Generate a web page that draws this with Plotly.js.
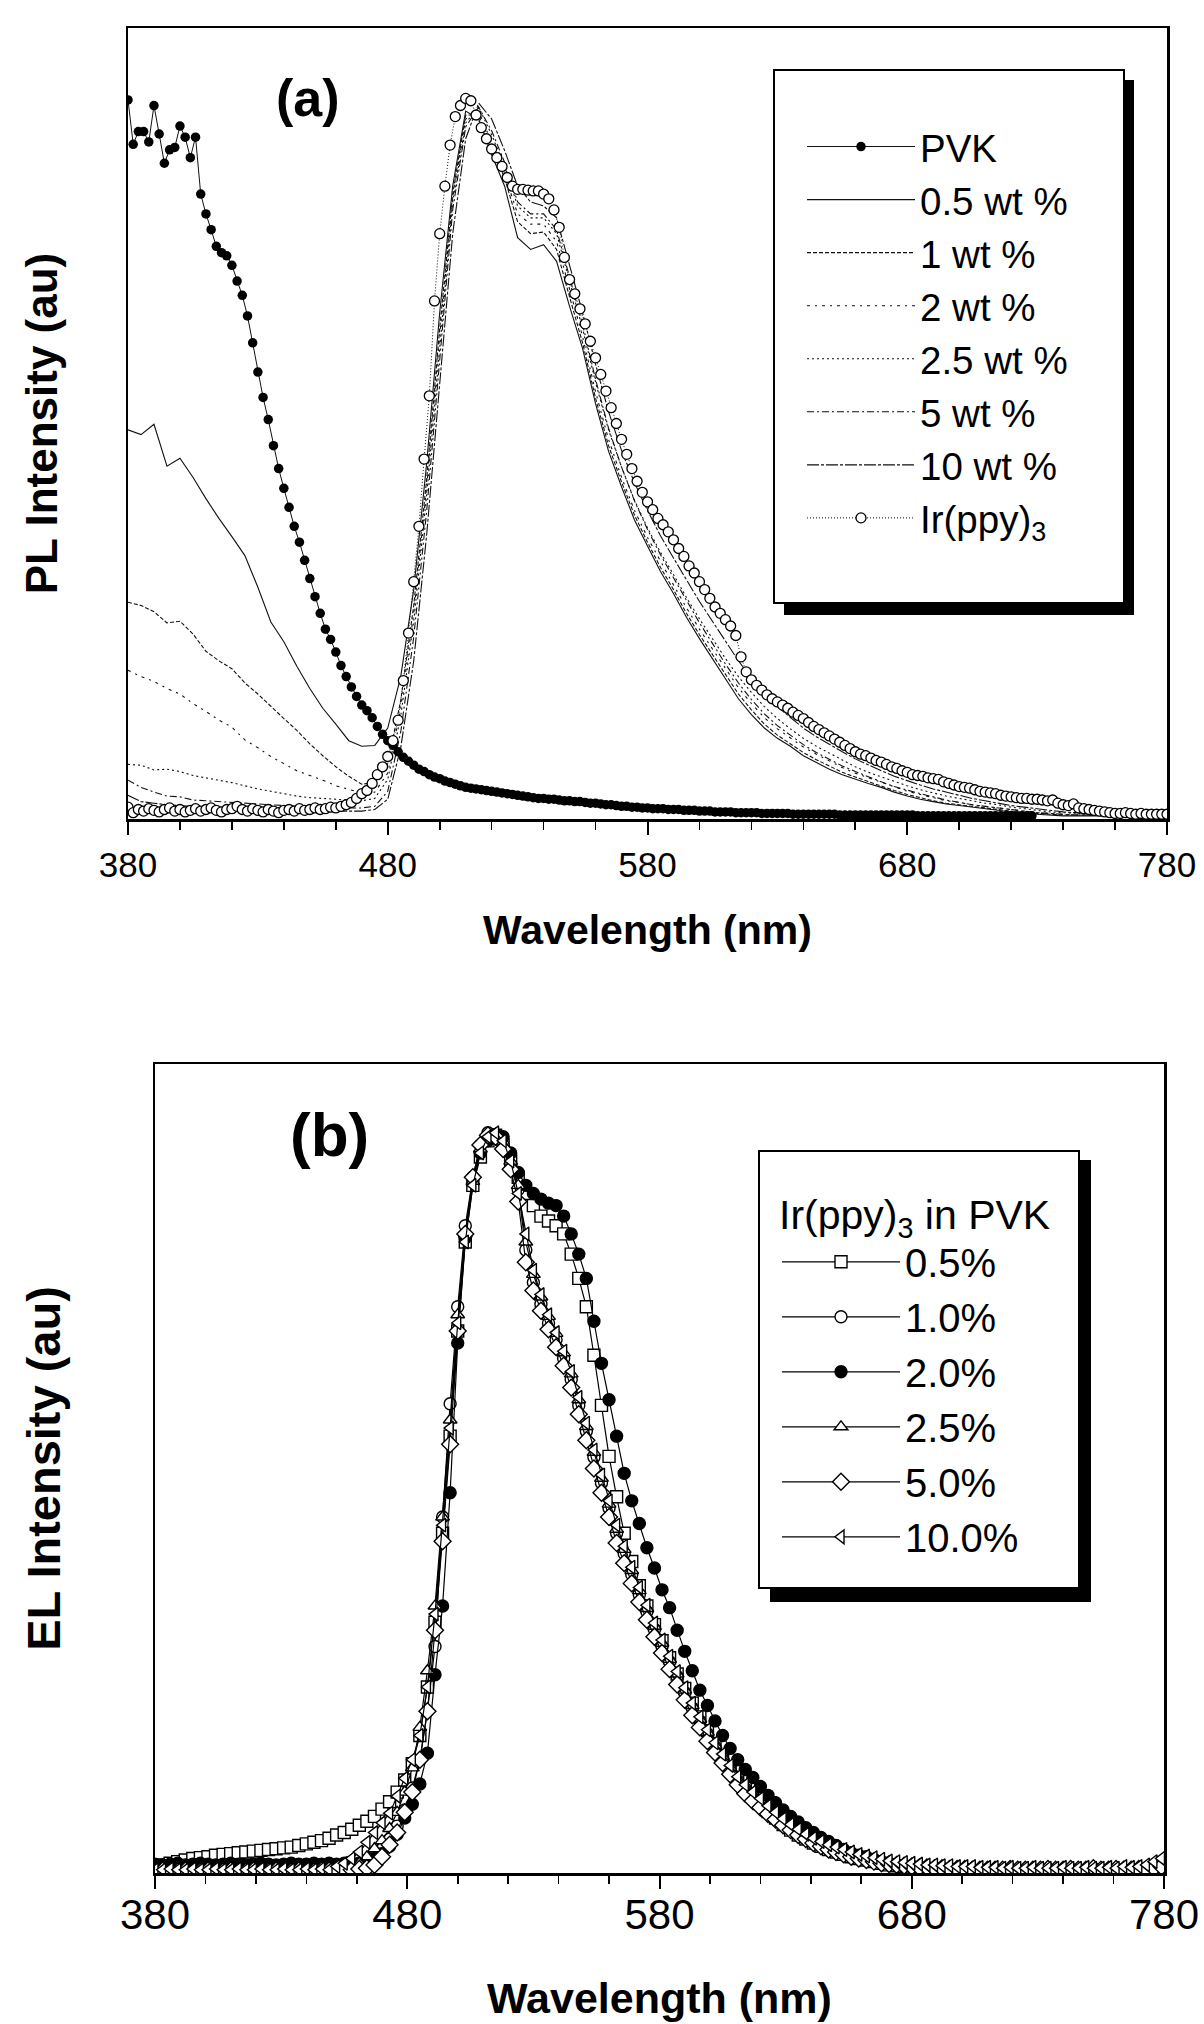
<!DOCTYPE html>
<html>
<head>
<meta charset="utf-8">
<script src="https://cdn.plot.ly/plotly-3.0.1.min.js"></script>
<style>
html,body{margin:0;padding:0;background:#fff;}
#chart{width:1204px;height:2024px;}
</style>
</head>
<body>
<div id="chart"></div>
<script>
// ---------------- DATA : panel (a) PL spectra ----------------
const wlDense = [
380,382,384,386,388,390,392,394,396,398,
400,402,404,406,408,410,412,414,416,418,
420,422,424,426,428,430,432,434,436,438,
440,442,444,446,448,450,452,454,456,458,
460,462,464,466,468,470,472,474,476,478,
480,482,484,486,488,490,492,494,496,498,
500,502,504,506,508,510,512,514,516,518,
520,522,524,526,528,530,532,534,536,538,
540,542,544,546,548,550,552,554,556,558,
560,562,564,566,568,570,572,574,576,578,
580,582,584,586,588,590,592,594,596,598,
600,602,604,606,608,610,612,614,616,618,
620,622,624,626,628,630,632,634,636,638,
640,642,644,646,648,650,652,654,656,658,
660,662,664,666,668,670,672,674,676,678,
680,682,684,686,688,690,692,694,696,698,
700,702,704,706,708,710,712,714,716,718,
720,722,724,726,728,730,732,734,736,738,
740,742,744,746,748,750,752,754,756,758,
760,762,764,766,768,770,772,774,776,778,
780];

const wlLine = [
380,385,390,395,400,405,410,415,420,425,
430,435,440,445,450,455,460,465,470,475,
480,485,490,495,500,505,510,515,520,525,
530,535,540,545,550,555,560,565,570,575,
580,585,590,595,600,605,610,615,620,625,
630,635,640,645,650,655,660,665,670,675,
680,685,690,695,700,705,710,715,720,725,
730,735,740,745,750,755,760,765,770,775,
780];

const plPVK = [
0.909,0.853,0.869,0.869,0.856,0.902,0.866,0.829,0.846,0.849,
0.876,0.862,0.836,0.862,0.790,0.765,0.745,0.724,0.716,0.712,
0.700,0.680,0.662,0.636,0.602,0.565,0.533,0.505,0.472,0.443,
0.418,0.394,0.370,0.350,0.327,0.304,0.281,0.260,0.240,0.227,
0.211,0.194,0.180,0.167,0.155,0.144,0.137,0.128,0.117,0.107,
0.099,0.093,0.085,0.078,0.073,0.068,0.063,0.060,0.056,0.053,
0.051,0.048,0.046,0.044,0.042,0.040,0.039,0.038,0.037,0.036,
0.035,0.034,0.033,0.032,0.031,0.030,0.029,0.028,0.027,0.026,
0.026,0.025,0.025,0.024,0.023,0.023,0.022,0.022,0.021,0.020,
0.020,0.019,0.018,0.018,0.017,0.016,0.016,0.015,0.015,0.014,
0.014,0.013,0.013,0.013,0.012,0.012,0.012,0.011,0.011,0.011,
0.010,0.010,0.010,0.009,0.009,0.009,0.009,0.008,0.008,0.008,
0.008,0.008,0.007,0.007,0.007,0.007,0.007,0.007,0.006,0.006,
0.006,0.006,0.006,0.006,0.006,0.006,0.006,0.005,0.005,0.005,
0.005,0.005,0.005,0.005,0.005,0.005,0.005,0.005,0.005,0.005,
0.005,0.005,0.004,0.004,0.004,0.004,0.004,0.004,0.004,0.004,
0.004,0.004,0.004,0.004,0.004,0.004,0.004,0.004,0.004,0.004,
0.004,0.004,0.004,0.004,0.004];

const plIr = [
0.015,0.008,0.012,0.010,0.013,0.011,0.009,0.012,0.014,0.010,
0.012,0.009,0.011,0.013,0.010,0.012,0.014,0.011,0.009,0.012,
0.013,0.016,0.012,0.010,0.013,0.011,0.009,0.012,0.010,0.008,
0.011,0.012,0.010,0.013,0.011,0.012,0.014,0.012,0.013,0.015,
0.014,0.016,0.018,0.021,0.026,0.032,0.036,0.045,0.056,0.066,
0.079,0.099,0.125,0.175,0.235,0.300,0.370,0.455,0.535,0.655,
0.740,0.800,0.852,0.888,0.902,0.911,0.908,0.890,0.874,0.860,
0.847,0.836,0.825,0.811,0.800,0.796,0.796,0.795,0.794,0.794,
0.790,0.784,0.770,0.748,0.710,0.682,0.664,0.645,0.626,0.604,
0.583,0.562,0.541,0.520,0.500,0.480,0.461,0.443,0.427,0.413,
0.401,0.391,0.380,0.372,0.363,0.353,0.342,0.332,0.320,0.311,
0.300,0.290,0.279,0.268,0.260,0.252,0.244,0.232,0.205,0.186,
0.176,0.169,0.163,0.157,0.152,0.148,0.144,0.140,0.135,0.131,
0.127,0.122,0.117,0.113,0.109,0.105,0.101,0.097,0.093,0.089,
0.085,0.082,0.080,0.077,0.074,0.072,0.069,0.066,0.064,0.061,
0.059,0.056,0.055,0.054,0.052,0.051,0.050,0.047,0.045,0.043,
0.041,0.040,0.039,0.037,0.035,0.034,0.033,0.032,0.030,0.029,
0.028,0.027,0.026,0.026,0.025,0.025,0.024,0.023,0.024,0.020,
0.018,0.017,0.019,0.014,0.013,0.012,0.011,0.010,0.009,0.008,
0.007,0.007,0.008,0.007,0.006,0.007,0.006,0.006,0.006,0.006,
0.006];

const pl05 = [
0.492,0.486,0.499,0.446,0.456,0.432,0.405,0.380,0.357,0.333,
0.293,0.249,0.224,0.193,0.165,0.140,0.120,0.099,0.092,0.093,
0.115,0.180,0.290,0.450,0.640,0.800,0.895,0.885,0.840,0.800,
0.735,0.720,0.726,0.705,0.648,0.595,0.525,0.465,0.420,0.378,
0.345,0.313,0.285,0.255,0.228,0.203,0.177,0.152,0.132,0.115,
0.102,0.092,0.080,0.071,0.063,0.056,0.050,0.045,0.040,0.034,
0.029,0.025,0.022,0.019,0.017,0.015,0.013,0.011,0.009,0.007,
0.006,0.005,0.004,0.004,0.004,0.004,0.004,0.004,0.004,0.004,
0.004];
const pl1 = [
0.274,0.270,0.262,0.248,0.250,0.234,0.212,0.200,0.190,0.172,
0.158,0.142,0.127,0.112,0.095,0.080,0.066,0.054,0.044,0.046,
0.070,0.150,0.270,0.430,0.620,0.790,0.890,0.890,0.850,0.810,
0.755,0.740,0.742,0.720,0.660,0.602,0.532,0.472,0.426,0.384,
0.350,0.318,0.290,0.260,0.233,0.208,0.182,0.158,0.138,0.120,
0.106,0.095,0.084,0.075,0.067,0.059,0.053,0.047,0.042,0.036,
0.031,0.027,0.023,0.020,0.018,0.016,0.014,0.012,0.010,0.008,
0.007,0.006,0.005,0.005,0.005,0.005,0.005,0.005,0.005,0.005,
0.005];
const pl2 = [
0.188,0.180,0.174,0.165,0.158,0.146,0.136,0.125,0.116,0.100,
0.090,0.079,0.070,0.061,0.055,0.049,0.042,0.037,0.033,0.034,
0.058,0.140,0.260,0.420,0.610,0.785,0.885,0.895,0.855,0.815,
0.765,0.752,0.752,0.730,0.670,0.610,0.540,0.480,0.432,0.390,
0.356,0.325,0.296,0.267,0.240,0.215,0.190,0.166,0.146,0.128,
0.114,0.102,0.091,0.082,0.073,0.065,0.058,0.052,0.046,0.040,
0.035,0.031,0.027,0.023,0.021,0.018,0.016,0.014,0.012,0.010,
0.008,0.007,0.006,0.005,0.005,0.005,0.005,0.005,0.005,0.005,
0.005];
const pl25 = [
0.069,0.068,0.062,0.063,0.060,0.055,0.052,0.049,0.046,0.042,
0.038,0.035,0.032,0.029,0.027,0.026,0.025,0.024,0.023,0.026,
0.050,0.130,0.250,0.410,0.600,0.780,0.880,0.900,0.865,0.825,
0.775,0.760,0.760,0.740,0.680,0.620,0.552,0.492,0.445,0.403,
0.368,0.337,0.309,0.280,0.253,0.228,0.203,0.180,0.160,0.142,
0.127,0.114,0.102,0.092,0.083,0.074,0.066,0.059,0.053,0.047,
0.042,0.037,0.033,0.029,0.026,0.023,0.020,0.018,0.015,0.013,
0.011,0.009,0.008,0.007,0.006,0.006,0.006,0.006,0.006,0.006,
0.006];
const pl5 = [
0.049,0.040,0.034,0.029,0.028,0.024,0.023,0.022,0.021,0.020,
0.019,0.018,0.017,0.016,0.016,0.015,0.015,0.014,0.014,0.016,
0.035,0.110,0.230,0.390,0.580,0.770,0.875,0.900,0.870,0.830,
0.780,0.765,0.765,0.745,0.685,0.625,0.556,0.494,0.445,0.402,
0.366,0.334,0.305,0.276,0.248,0.222,0.196,0.172,0.151,0.133,
0.118,0.106,0.094,0.084,0.075,0.067,0.060,0.053,0.047,0.041,
0.036,0.032,0.028,0.024,0.021,0.018,0.016,0.014,0.012,0.010,
0.008,0.007,0.006,0.005,0.005,0.005,0.005,0.005,0.005,0.005,
0.005];
const pl10 = [
0.030,0.022,0.020,0.018,0.017,0.016,0.015,0.014,0.013,0.012,
0.012,0.011,0.011,0.010,0.010,0.010,0.010,0.010,0.010,0.012,
0.025,0.090,0.200,0.360,0.550,0.740,0.860,0.905,0.885,0.845,
0.800,0.780,0.775,0.760,0.700,0.640,0.575,0.515,0.466,0.425,
0.390,0.358,0.330,0.302,0.275,0.250,0.225,0.200,0.178,0.158,
0.142,0.128,0.115,0.104,0.094,0.085,0.076,0.068,0.061,0.054,
0.048,0.043,0.038,0.034,0.030,0.026,0.023,0.020,0.017,0.015,
0.013,0.011,0.009,0.008,0.007,0.006,0.006,0.006,0.006,0.006,
0.006];

// ---------------- DATA : panel (b) EL spectra ----------------
const wlEL = [
380,383,386,389,392,395,398,401,404,407,
410,413,416,419,422,425,428,431,434,437,
440,443,446,449,452,455,458,461,464,467,
470,473,476,479,482,485,488,491,494,497,
500,503,506,509,512,515,518,521,524,527,
530,533,536,539,542,545,548,551,554,557,
560,563,566,569,572,575,578,581,584,587,
590,593,596,599,602,605,608,611,614,617,
620,623,626,629,632,635,638,641,644,647,
650,653,656,659,662,665,668,671,674,677,
680,683,686,689,692,695,698,701,704,707,
710,713,716,719,722,725,728,731,734,737,
740,743,746,749,752,755,758,761,764,767,
770,773,776,779];

const el05 = [
0.008,0.010,0.012,0.014,0.016,0.018,0.019,0.020,0.022,0.023,
0.024,0.025,0.026,0.027,0.028,0.029,0.030,0.031,0.032,0.034,
0.036,0.038,0.040,0.043,0.047,0.050,0.054,0.059,0.064,0.070,
0.079,0.088,0.100,0.115,0.135,0.170,0.230,0.310,0.420,0.540,
0.670,0.780,0.850,0.885,0.905,0.912,0.900,0.880,0.860,0.840,
0.825,0.812,0.806,0.800,0.790,0.765,0.735,0.700,0.640,0.578,
0.515,0.465,0.420,0.385,0.355,0.330,0.307,0.287,0.266,0.246,
0.228,0.210,0.193,0.176,0.160,0.145,0.131,0.118,0.106,0.095,
0.085,0.076,0.068,0.060,0.053,0.047,0.042,0.037,0.033,0.029,
0.026,0.023,0.020,0.018,0.016,0.014,0.012,0.010,0.009,0.008,
0.007,0.006,0.005,0.005,0.004,0.004,0.004,0.004];
const el10 = [
0.008,0.007,0.008,0.006,0.007,0.008,0.007,0.006,0.007,0.008,
0.007,0.006,0.007,0.008,0.007,0.006,0.007,0.008,0.007,0.008,
0.008,0.009,0.008,0.009,0.010,0.010,0.011,0.012,0.016,0.022,
0.030,0.042,0.058,0.078,0.105,0.140,0.200,0.280,0.440,0.580,
0.700,0.800,0.860,0.900,0.915,0.910,0.900,0.875,0.845,0.770,
0.730,0.703,0.680,0.659,0.636,0.610,0.578,0.546,0.514,0.482,
0.451,0.420,0.395,0.369,0.344,0.323,0.301,0.280,0.261,0.243,
0.223,0.204,0.188,0.172,0.156,0.142,0.128,0.114,0.104,0.095,
0.087,0.078,0.070,0.062,0.055,0.050,0.044,0.039,0.035,0.031,
0.028,0.025,0.022,0.019,0.017,0.015,0.013,0.011,0.010,0.009,
0.008,0.007,0.006,0.006,0.005,0.005,0.005,0.005];
const el20 = [
0.011,0.010,0.011,0.012,0.010,0.011,0.012,0.011,0.010,0.011,
0.012,0.011,0.010,0.011,0.012,0.011,0.010,0.011,0.012,0.011,
0.011,0.012,0.011,0.012,0.011,0.012,0.012,0.012,0.014,0.018,
0.024,0.033,0.048,0.068,0.085,0.110,0.148,0.245,0.330,0.470,
0.655,0.785,0.860,0.890,0.905,0.913,0.910,0.890,0.866,0.850,
0.840,0.833,0.828,0.825,0.812,0.790,0.765,0.735,0.682,0.630,
0.585,0.540,0.494,0.460,0.432,0.402,0.377,0.350,0.328,0.300,
0.274,0.250,0.226,0.207,0.188,0.170,0.154,0.140,0.128,0.118,
0.107,0.096,0.087,0.078,0.070,0.063,0.056,0.050,0.044,0.039,
0.034,0.029,0.025,0.022,0.020,0.017,0.014,0.012,0.010,0.008,
0.007,0.006,0.005,0.005,0.004,0.004,0.004,0.004];
const el25 = [
0.006,0.005,0.006,0.007,0.005,0.006,0.006,0.005,0.006,0.007,
0.006,0.005,0.006,0.006,0.007,0.006,0.005,0.006,0.006,0.007,
0.006,0.006,0.007,0.007,0.008,0.008,0.009,0.012,0.020,0.030,
0.040,0.055,0.075,0.100,0.130,0.180,0.250,0.330,0.440,0.560,
0.690,0.790,0.855,0.895,0.910,0.912,0.900,0.880,0.850,0.780,
0.740,0.712,0.688,0.667,0.643,0.617,0.585,0.552,0.520,0.488,
0.456,0.425,0.400,0.374,0.349,0.327,0.305,0.284,0.264,0.246,
0.226,0.207,0.190,0.174,0.158,0.144,0.130,0.116,0.106,0.097,
0.089,0.080,0.072,0.064,0.057,0.051,0.045,0.040,0.036,0.032,
0.029,0.026,0.023,0.020,0.018,0.016,0.014,0.012,0.011,0.010,
0.009,0.008,0.008,0.007,0.007,0.006,0.006,0.006,0.006,0.005,
0.005,0.005,0.006,0.005,0.005,0.005,0.006,0.005,0.005,0.005,
0.005,0.006,0.005,0.005,0.005,0.006,0.005,0.005,0.006,0.005,
0.005,0.006,0.005,0.006];
const el50 = [
0.002,0.003,0.002,0.002,0.003,0.002,0.002,0.003,0.002,0.002,
0.003,0.002,0.002,0.003,0.002,0.002,0.003,0.002,0.002,0.003,
0.002,0.002,0.003,0.003,0.003,0.004,0.004,0.005,0.006,0.010,
0.020,0.035,0.050,0.075,0.100,0.140,0.200,0.300,0.410,0.530,
0.670,0.790,0.860,0.900,0.912,0.910,0.895,0.870,0.830,0.755,
0.720,0.695,0.672,0.650,0.627,0.600,0.567,0.535,0.500,0.470,
0.440,0.408,0.383,0.358,0.335,0.313,0.292,0.272,0.252,0.233,
0.214,0.195,0.180,0.163,0.149,0.136,0.122,0.109,0.098,0.089,
0.081,0.073,0.066,0.059,0.053,0.047,0.042,0.037,0.033,0.029,
0.026,0.023,0.020,0.018,0.016,0.014,0.012,0.011,0.010,0.009,
0.008,0.007,0.007,0.006,0.006,0.005,0.005,0.005,0.004,0.004,
0.004,0.004,0.004,0.005,0.004,0.004,0.004,0.004,0.005,0.004,
0.004,0.005,0.004,0.004,0.006,0.004,0.004,0.005,0.004,0.004,
0.005,0.004,0.006,0.008];
const el100 = [
0.004,0.004,0.005,0.004,0.004,0.005,0.004,0.004,0.005,0.004,
0.004,0.005,0.004,0.004,0.005,0.004,0.004,0.005,0.004,0.004,
0.005,0.004,0.005,0.004,0.008,0.012,0.018,0.026,0.038,0.050,
0.062,0.074,0.095,0.117,0.140,0.170,0.230,0.320,0.430,0.550,
0.680,0.780,0.850,0.890,0.910,0.915,0.905,0.880,0.840,0.790,
0.745,0.715,0.690,0.668,0.645,0.620,0.588,0.556,0.523,0.492,
0.460,0.430,0.404,0.378,0.353,0.331,0.309,0.288,0.268,0.249,
0.229,0.210,0.193,0.177,0.161,0.147,0.133,0.119,0.109,0.100,
0.092,0.083,0.075,0.067,0.060,0.054,0.048,0.043,0.039,0.035,
0.032,0.029,0.026,0.023,0.021,0.019,0.017,0.015,0.014,0.013,
0.012,0.011,0.010,0.010,0.009,0.009,0.008,0.008,0.008,0.007,
0.007,0.007,0.006,0.007,0.006,0.006,0.007,0.006,0.006,0.006,
0.007,0.006,0.006,0.007,0.006,0.006,0.007,0.006,0.008,0.007,
0.008,0.010,0.014,0.018];

const xTickVals = [380, 480, 580, 680, 780];
const plNames = ['PVK', '0.5 wt %', '1 wt %', '2 wt %', '2.5 wt %', '5 wt %', '10 wt %', 'Ir(ppy)<sub>3</sub>'];
const elNames = ['0.5%', '1.0%', '2.0%', '2.5%', '5.0%', '10.0%'];

// ---------------- LAYOUT (pixel geometry) ----------------
const W = 1204, H = 2024;
const fx = p => p / W;
const fy = p => 1 - p / H;

const A = {l: 128, r: 1167, t: 28, b: 819};
const B = {l: 155, r: 1164, t: 1064, b: 1873};

const ARIAL = 'Liberation Sans, Arial, Helvetica, sans-serif';

function lineTrace(x, y, name, dash, rank) {
  return {x: x, y: y, name: name, type: 'scatter', mode: 'lines',
    line: {color: '#111', width: 1.1, dash: dash}, xaxis: 'x', yaxis: 'y',
    legend: 'legend', legendrank: rank, hoverinfo: 'skip'};
}

const traces = [
  lineTrace(wlLine, pl05, plNames[1], 'solid', 2),
  lineTrace(wlLine, pl1, plNames[2], '4px,2px', 3),
  lineTrace(wlLine, pl2, plNames[3], '3px,5px,2px,5px', 4),
  lineTrace(wlLine, pl25, plNames[4], '2px,3px', 5),
  lineTrace(wlLine, pl5, plNames[5], '7px,3px,2px,3px', 6),
  lineTrace(wlLine, pl10, plNames[6], '12px,2px,3px,2px', 7),
  {x: wlDense.slice(0, plPVK.length), y: plPVK, name: plNames[0], type: 'scatter', mode: 'lines+markers',
   line: {color: '#111', width: 1}, marker: {symbol: 'circle', size: 9.5, color: '#000'},
   xaxis: 'x', yaxis: 'y', legend: 'legend', legendrank: 1},
  {x: wlDense, y: plIr, name: plNames[7], type: 'scatter', mode: 'lines+markers',
   line: {color: '#111', width: 1, dash: '1px,2px'},
   marker: {symbol: 'circle', size: 10, color: '#fff', line: {color: '#000', width: 1.3}},
   xaxis: 'x', yaxis: 'y', legend: 'legend', legendrank: 8}
];

const elSeries = [
  [el05, 'square'], [el10, 'circle'], [el20, 'circle'],
  [el25, 'triangle-up'], [el50, 'diamond'], [el100, 'triangle-left']
];
elSeries.forEach(function (s, i) {
  const filled = (i === 2);
  traces.push({x: wlEL.slice(0, s[0].length), y: s[0], name: elNames[i], type: 'scatter', mode: 'lines+markers',
    line: {color: '#000', width: 1.2},
    marker: {symbol: s[1], size: s[1] === 'diamond' ? 13 : 12, color: filled ? '#000' : '#fff',
             line: {color: '#000', width: 1.4}},
    xaxis: 'x2', yaxis: 'y2', legend: 'legend2'});
});

function xAxis(dom, anchor, fontSpec, lblStandoff, standoff, titleText, titleSize) {
  return {domain: dom, anchor: anchor, range: [380, 780], showgrid: false, zeroline: false,
    showline: true, linecolor: '#000', linewidth: 2.5, mirror: true,
    ticks: 'outside', ticklen: 13, tickwidth: 2, tickcolor: '#000',
    tickmode: 'array', tickvals: xTickVals, ticktext: xTickVals.map(String),
    tickfont: fontSpec, ticklabelstandoff: lblStandoff,
    minor: {ticks: 'outside', ticklen: 8, tickwidth: 1.6, tickcolor: '#000', tickmode: 'linear', tick0: 380, dtick: 20, showgrid: false},
    title: {text: '<b>' + titleText + '</b>', font: {family: ARIAL, size: titleSize, color: '#000'}, standoff: standoff},
    automargin: false, fixedrange: true};
}
function yAxis(dom, anchor, titleText, titleSize, standoff) {
  return {domain: dom, anchor: anchor, range: [0, 1], showgrid: false, zeroline: false,
    showline: true, linecolor: '#000', linewidth: 2.5, mirror: true,
    ticks: '', showticklabels: false,
    title: {text: '<b>' + titleText + '</b>', font: {family: ARIAL, size: titleSize, color: '#000'}, standoff: standoff},
    automargin: false, fixedrange: true};
}

const layout = {
  width: W, height: H,
  margin: {l: 0, r: 0, t: 0, b: 0, pad: 0},
  paper_bgcolor: '#fff', plot_bgcolor: '#fff',
  showlegend: true,
  font: {family: ARIAL, color: '#000'},
  xaxis: xAxis([fx(A.l), fx(A.r)], 'y', {family: ARIAL, size: 35, color: '#000'}, 0, 33, 'Wavelength (nm)', 41),
  yaxis: yAxis([fy(A.b), fy(A.t)], 'x', 'PL Intensity (au)', 44, 54),
  xaxis2: xAxis([fx(B.l), fx(B.r)], 'y2', {family: ARIAL, size: 42, color: '#000'}, -10, 46, 'Wavelength (nm)', 43),
  yaxis2: yAxis([fy(B.b), fy(B.t)], 'x2', 'EL Intensity (au)', 47, 77),
  legend: {x: fx(802), y: fy(115), xanchor: 'left', yanchor: 'top', bgcolor: 'rgba(0,0,0,0)', borderwidth: 0,
    font: {family: ARIAL, size: 38.5, color: '#000'}, itemwidth: 108, traceorder: 'normal', itemclick: false},
  legend2: {x: fx(777), y: fy(1176), xanchor: 'left', yanchor: 'top', bgcolor: 'rgba(0,0,0,0)', borderwidth: 0,
    font: {family: ARIAL, size: 40, color: '#000'}, itemwidth: 118, traceorder: 'normal', itemclick: false,
    title: {text: 'Ir(ppy)<sub>3</sub> in PVK', font: {family: ARIAL, size: 41, color: '#000'}}},
  shapes: [
    {type: 'rect', xref: 'paper', yref: 'paper', x0: fx(784), x1: fx(1134), y0: fy(80), y1: fy(615),
     fillcolor: '#000', line: {width: 0}, layer: 'above'},
    {type: 'rect', xref: 'paper', yref: 'paper', x0: fx(774), x1: fx(1124), y0: fy(70), y1: fy(603),
     fillcolor: '#fff', line: {color: '#000', width: 2}, layer: 'above'},
    {type: 'rect', xref: 'paper', yref: 'paper', x0: fx(770), x1: fx(1091), y0: fy(1160), y1: fy(1602),
     fillcolor: '#000', line: {width: 0}, layer: 'above'},
    {type: 'rect', xref: 'paper', yref: 'paper', x0: fx(759), x1: fx(1079), y0: fy(1151), y1: fy(1588),
     fillcolor: '#fff', line: {color: '#000', width: 2}, layer: 'above'}
  ],
  annotations: [
    {text: '<b>(a)</b>', xref: 'paper', yref: 'paper', x: fx(308), y: fy(98), xanchor: 'center', yanchor: 'middle',
     showarrow: false, font: {family: ARIAL, size: 52, color: '#000'}},
    {text: '<b>(b)</b>', xref: 'paper', yref: 'paper', x: fx(329), y: fy(1134), xanchor: 'center', yanchor: 'middle',
     showarrow: false, font: {family: ARIAL, size: 62, color: '#000'}}
  ]
};

Plotly.newPlot('chart', traces, layout, {displayModeBar: false, staticPlot: true});
</script>
</body>
</html>
